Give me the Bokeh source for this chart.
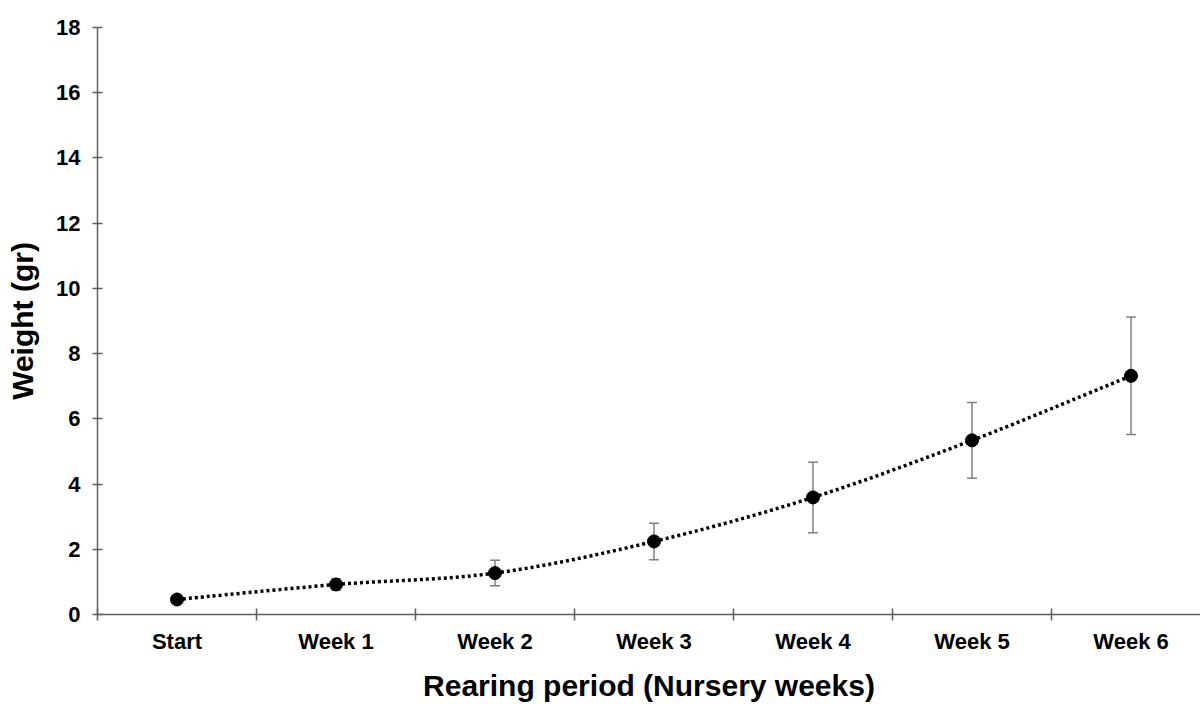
from bokeh.plotting import figure
from bokeh.models import ColumnDataSource, Whisker, TeeHead, FixedTicker, Range1d
from bokeh.embed import file_html
from bokeh.resources import INLINE

categories = ["Start", "Week 1", "Week 2", "Week 3", "Week 4", "Week 5", "Week 6"]
weight = [0.46, 0.92, 1.27, 2.24, 3.59, 5.34, 7.32]
err = [0.05, 0.18, 0.39, 0.56, 1.08, 1.16, 1.80]

xs = list(range(len(categories)))
upper = [w + e for w, e in zip(weight, err)]
lower = [w - e for w, e in zip(weight, err)]

FONT = "Liberation Sans"
AX = "#5f5f5f"

p = figure(width=1200, height=704, output_backend="svg", toolbar_location=None,
           x_range=Range1d(-0.5, 6.437), y_range=Range1d(0, 18),
           min_border_left=97, min_border_top=27, min_border_bottom=89, min_border_right=0)
p.outline_line_color = None
p.grid.visible = False
p.background_fill_color = "white"
p.border_fill_color = "white"

# smooth dotted line through points (Catmull-Rom -> bezier)
n = len(xs)
x0, y0, x1, y1, cx0, cy0, cx1, cy1 = [], [], [], [], [], [], [], []
for i in range(n - 1):
    pm = (xs[max(i - 1, 0)], weight[max(i - 1, 0)])
    pa = (xs[i], weight[i])
    pb = (xs[i + 1], weight[i + 1])
    pn = (xs[min(i + 2, n - 1)], weight[min(i + 2, n - 1)])
    x0.append(pa[0]); y0.append(pa[1]); x1.append(pb[0]); y1.append(pb[1])
    cx0.append(pa[0] + (pb[0] - pm[0]) / 6); cy0.append(pa[1] + (pb[1] - pm[1]) / 6)
    cx1.append(pb[0] - (pn[0] - pa[0]) / 6); cy1.append(pb[1] - (pn[1] - pa[1]) / 6)
p.bezier(x0=x0, y0=y0, x1=x1, y1=y1, cx0=cx0, cy0=cy0, cx1=cx1, cy1=cy1,
         line_color="black", line_width=3.5, line_dash="3 3")

src = ColumnDataSource(dict(x=xs, w=weight, upper=upper, lower=lower))
wh = Whisker(base="x", upper="upper", lower="lower", source=src, level="underlay",
             line_color="#808080", line_width=1.5,
             upper_head=TeeHead(size=10, line_color="#808080", line_width=1.5),
             lower_head=TeeHead(size=10, line_color="#808080", line_width=1.5))
p.add_layout(wh)
p.scatter("x", "w", source=src, size=13, color="black")

# x axis
xa = p.xaxis[0]
xa.ticker = FixedTicker(ticks=xs, minor_ticks=[i - 0.5 for i in xs])
xa.major_label_overrides = {i: c for i, c in enumerate(categories)}
xa.major_tick_line_color = None
xa.major_tick_in = 0
xa.major_tick_out = 6
xa.minor_tick_in = 6
xa.minor_tick_out = 6
xa.minor_tick_line_color = AX
xa.minor_tick_line_width = 1.5
xa.axis_line_color = AX
xa.axis_line_width = 1.5
xa.major_label_text_font = FONT
xa.major_label_text_font_style = "bold"
xa.major_label_text_font_size = "22px"
xa.major_label_text_color = "black"
xa.major_label_standoff = 8
xa.axis_label = "Rearing period (Nursery weeks)"
xa.axis_label_text_font = FONT
xa.axis_label_text_font_style = "bold"
xa.axis_label_text_font_size = "30px"
xa.axis_label_text_color = "black"
xa.axis_label_standoff = 12

# y axis
ya = p.yaxis[0]
ya.ticker = FixedTicker(ticks=list(range(0, 19, 2)), minor_ticks=[])
ya.major_tick_in = 5
ya.major_tick_out = 5
ya.major_tick_line_color = AX
ya.major_tick_line_width = 1.5
ya.axis_line_color = AX
ya.axis_line_width = 1.5
ya.major_label_text_font = FONT
ya.major_label_text_font_style = "bold"
ya.major_label_text_font_size = "22px"
ya.major_label_text_color = "black"
ya.major_label_standoff = 12
ya.axis_label = "Weight (gr)"
ya.axis_label_text_font = FONT
ya.axis_label_text_font_style = "bold"
ya.axis_label_text_font_size = "30px"
ya.axis_label_text_color = "black"
ya.axis_label_standoff = 14

open("out.html", "w").write(file_html(p, INLINE))
